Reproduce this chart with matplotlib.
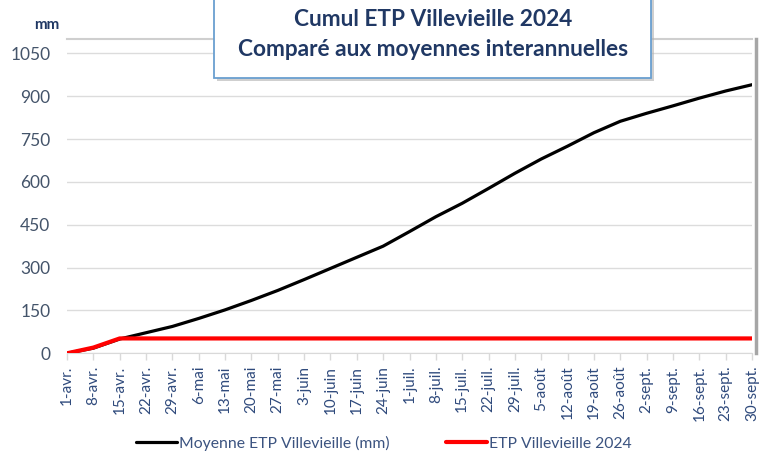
import matplotlib
matplotlib.use("Agg")
import matplotlib.pyplot as plt
from matplotlib.patches import Rectangle

plt.rcParams['font.family'] = ['Lato', 'DejaVu Sans']

dates = ['1-avr.', '8-avr.', '15-avr.', '22-avr.', '29-avr.', '6-mai', '13-mai', '20-mai',
         '27-mai', '3-juin', '10-juin', '17-juin', '24-juin', '1-juil.', '8-juil.', '15-juil.',
         '22-juil.', '29-juil.', '5-août', '12-août', '19-août', '26-août', '2-sept.', '9-sept.',
         '16-sept.', '23-sept.', '30-sept.']
moyenne = [0, 18, 50, 72, 94, 122, 152, 185, 220, 258, 297, 336, 375, 426, 478, 525,
           577, 630, 680, 725, 772, 812, 840, 866, 893, 918, 940]
etp_2024 = [0, 20, 52, 52, 52, 52, 52, 52, 52, 52, 52, 52, 52, 52, 52, 52,
            52, 52, 52, 52, 52, 52, 52, 52, 52, 52, 52]
yticks = [0, 150, 300, 450, 600, 750, 900, 1050]

W, H = 771, 461
fig = plt.figure(figsize=(W / 100, H / 100), dpi=100)
ax = fig.add_axes([67 / W, 1 - 353.3 / H, (752 - 67) / W, (353.3 - 39) / H])

x = list(range(len(dates)))
l1, = ax.plot(x, moyenne, color='black', lw=2.3, solid_capstyle='round',
              solid_joinstyle='round', zorder=3, label='Moyenne ETP Villevieille (mm)')
l2, = ax.plot(x, etp_2024, color='#ff0000', lw=3.0, solid_capstyle='round',
              solid_joinstyle='round', zorder=4, label='ETP Villevieille 2024')

ax.set_xlim(0, len(dates) - 1)
ax.set_ylim(0, 1100)
ax.set_yticks(yticks)
ax.set_yticklabels([str(v) for v in yticks])
ax.set_xticks(x)
ax.set_xticklabels(dates, rotation=90)

ax.grid(axis='y', color='#dcdcdc', lw=1.0)
ax.set_axisbelow(True)

ax.tick_params(axis='y', length=0, pad=12, labelsize=12.5, labelcolor='#44546A')
ax.tick_params(axis='x', length=5, width=1, color='#d9d9d9', pad=4,
               labelsize=11, labelcolor='#2F4A7C')
for lab in ax.get_xticklabels():
    lab.set_verticalalignment('top')

ax.spines['left'].set_visible(False)
ax.spines['bottom'].set_color('#d9d9d9')
ax.spines['top'].set_color('#cfcfcf')
ax.spines['top'].set_linewidth(1.5)
ax.spines['right'].set_color('#a6a6a6')
ax.spines['right'].set_linewidth(2.5)
ax.spines['right'].set_position(('outward', 3))

fig.text(47 / W, 1 - 25 / H, 'mm', ha='center', va='center', fontsize=11,
         fontweight='bold', color='#203864')

# Title box with shadow
bx0, bx1, by0, by1 = 214, 651, 78, -5
shadow = Rectangle(((bx0 + 3) / W, 1 - (by0 + 3) / H), (bx1 - bx0) / W, (by0 - by1) / H,
                   transform=fig.transFigure, facecolor='#b0b0b0', edgecolor='none',
                   alpha=0.6, zorder=10)
box = Rectangle((bx0 / W, 1 - by0 / H), (bx1 - bx0) / W, (by0 - by1) / H,
                transform=fig.transFigure, facecolor='white', edgecolor='#6A9FD0',
                lw=1.3, zorder=11)
fig.patches.extend([shadow, box])
fig.text(433 / W, 1 - 20 / H, 'Cumul ETP Villevieille 2024', ha='center', va='center',
         fontsize=16.3, fontweight='bold', color='#203864', zorder=12)
fig.text(433 / W, 1 - 50 / H, 'Comparé aux moyennes interannuelles', ha='center',
         va='center', fontsize=16.3, fontweight='bold', color='#203864', zorder=12)

leg = fig.legend(handles=[l1, l2], loc='center', bbox_to_anchor=(384 / W, 1 - 443 / H),
                 ncol=2, frameon=False, fontsize=11.3, handlelength=2.6,
                 handletextpad=0.15, columnspacing=3.6, labelcolor='#3B5380')

fig.savefig('out.png', dpi=100, facecolor='white')
